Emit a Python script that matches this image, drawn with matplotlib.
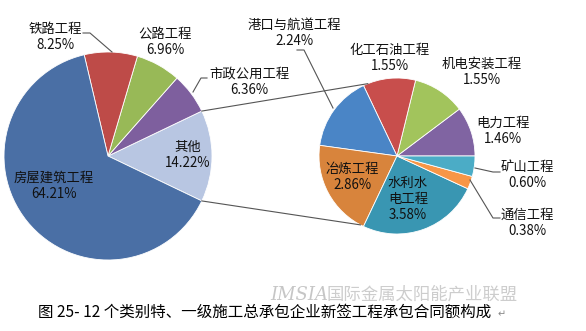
import matplotlib
matplotlib.use("Agg")
import matplotlib.pyplot as plt
import numpy as np

plt.rcParams['font.family'] = ['Noto Sans CJK SC', 'DejaVu Sans']

# Main pie (counter-clockwise, starting with the split-out "其他" slice)
main_labels = ["其他", "市政公用工程", "公路工程", "铁路工程", "房屋建筑工程"]
main_values = [14.22, 6.36, 6.96, 8.25, 64.21]
main_colors = ["#B8C6E2", "#7E5F9E", "#98B957", "#BE4B48", "#4A6FA5"]

# Secondary pie breaking down "其他" (counter-clockwise from 0 degrees)
sub_labels = ["电力工程", "机电安装工程", "化工石油工程", "港口与航道工程",
              "冶炼工程", "水利水\n电工程", "通信工程", "矿山工程"]
sub_values = [1.46, 1.55, 1.55, 2.24, 2.86, 3.58, 0.38, 0.60]
sub_colors = ["#8064A2", "#A2C45C", "#C84E4C", "#4A85C6",
              "#D8843C", "#3996B2", "#F79646", "#4BACC6"]

caption = "图 25- 12 个类别特、一级施工总承包企业新签工程承包合同额构成"

W, H = 586, 331
fig = plt.figure(figsize=(W / 100, H / 100), dpi=100)
ax = fig.add_axes([0, 0, 1, 1])


def Y(y):
    return H - y


main_c = (108, Y(156))
main_r = 104
sub_c = (397, Y(156))
sub_r = 78

main_start = -360 * main_values[0] / sum(main_values) / 2
ax.pie(main_values, colors=main_colors, startangle=main_start, counterclock=True,
       center=main_c, radius=main_r, frame=True,
       wedgeprops=dict(edgecolor="white", linewidth=0.6))
ax.pie(sub_values, colors=sub_colors, startangle=0, counterclock=True,
       center=sub_c, radius=sub_r, frame=True,
       wedgeprops=dict(edgecolor="white", linewidth=0.6))
ax.set_xlim(0, W)
ax.set_ylim(0, H)
ax.set_aspect('equal')
ax.axis('off')

line_kw = dict(color="#555555", linewidth=0.8)


def on_circle(c, r, deg):
    a = np.deg2rad(deg)
    return c[0] + r * np.cos(a), c[1] + r * np.sin(a)


# Connector lines between the two pies
p1 = on_circle(main_c, main_r, -main_start)
p2 = on_circle(main_c, main_r, main_start)
q1 = on_circle(sub_c, sub_r, 112)
q2 = on_circle(sub_c, sub_r, -118)
ax.plot([p1[0], q1[0]], [p1[1], q1[1]], **line_kw)
ax.plot([p2[0], q2[0]], [p2[1], q2[1]], **line_kw)

fs = 9.6
tc = "#111111"


def label(x, y, name, val, ha="center"):
    ax.text(x, Y(y), name + "\n" + f"{val:.2f}%", ha=ha, va="center",
            fontsize=fs, color=tc, linespacing=1.25)


# Main pie labels
label(55, 37, main_labels[3], main_values[3])
label(165, 42, main_labels[2], main_values[2])
label(249, 82, main_labels[1], main_values[1])
label(188, 155, main_labels[0], main_values[0])
label(54, 186, main_labels[4], main_values[4])

# Leader lines on the main pie
ax.plot([83, 90, 112], [Y(33), Y(33), Y(52)], **line_kw)
ax.plot([207, 201, 193], [Y(78), Y(78), Y(92)], **line_kw)

# Secondary pie labels
label(294, 33, sub_labels[3], sub_values[3])
label(390, 58, sub_labels[2], sub_values[2])
label(482, 72, sub_labels[1], sub_values[1])
label(503, 131, sub_labels[0], sub_values[0])
label(527, 175, sub_labels[7], sub_values[7])
label(527, 223, sub_labels[6], sub_values[6])
label(352, 177, sub_labels[4], sub_values[4])
ax.text(408, Y(199), sub_labels[5] + "\n" + f"{sub_values[5]:.2f}%",
        ha="center", va="center", fontsize=fs, color=tc, linespacing=1.2)

# Leader lines on the secondary pie
ax.plot([297, 304, 333], [Y(50), Y(50), Y(108)], **line_kw)
ax.plot([475, 493, 500], [Y(168), Y(172), Y(172)], **line_kw)
ax.plot([470, 493, 500], [Y(180), Y(218), Y(218)], **line_kw)

# Watermark and caption
ax.text(270, Y(295), "IMSIA", ha="left", va="center", fontsize=13,
        color="#c6c6c6", family="DejaVu Serif", style="italic")
ax.text(326, Y(295), "国际金属太阳能产业联盟", ha="left", va="center",
        fontsize=12.5, color="#cdcdcd")
ax.text(38, Y(312), caption, ha="left", va="center", fontsize=11.2, color="#000000")
ax.text(498, Y(314), "↵", ha="left", va="center", fontsize=7, color="#888888",
        family=["DejaVu Sans"])

fig.savefig("out.png", dpi=100, facecolor="white")
